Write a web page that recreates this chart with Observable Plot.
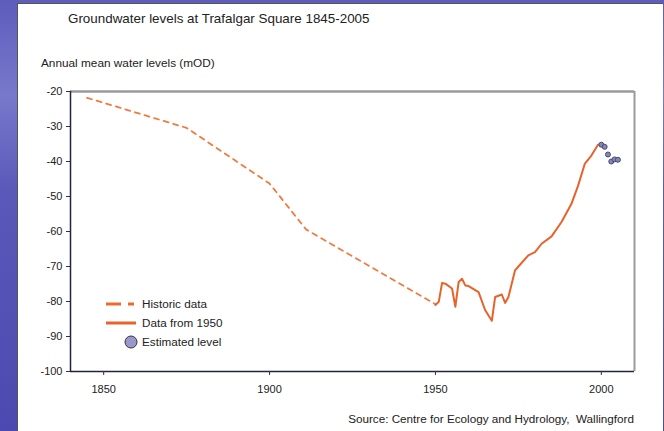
<!DOCTYPE html>
<html>
<head>
<meta charset="utf-8">
<script src="https://cdn.jsdelivr.net/npm/d3@7"></script>
<script src="https://cdn.jsdelivr.net/npm/@observablehq/plot@0.6"></script>
<style>
  html, body { margin: 0; padding: 0; }
  body { width: 664px; height: 431px; position: relative; overflow: hidden;
         background: linear-gradient(180deg, #5e5cbc 0%, #7878cc 22%, #5a58b8 45%, #4c4ab0 100%);
         font-family: "Liberation Sans", Arial, sans-serif; }
  #panel { position: absolute; left: 17px; top: 3px; width: 646px; height: 428px; background: #fff;
           border-left: 1px solid #555; border-top: 1px solid #555; box-sizing: border-box; }
  #chart { position: absolute; left: 0; top: 0; }
  .t { position: absolute; color: #222; white-space: nowrap; }
</style>
</head>
<body>
<div id="panel"></div>
<div id="chart"></div>
<div class="t" style="left:68px; top:11px; font-size:13.4px;">Groundwater levels at Trafalgar Square 1845-2005</div>
<div class="t" style="left:41px; top:56px; font-size:11.8px;">Annual mean water levels (mOD)</div>
<div class="t" style="right:30px; top:412px; font-size:11.7px;">Source: Centre for Ecology and Hydrology,&nbsp; Wallingford</div>
<div class="t" style="left:100px; top:296px;">
  <svg width="140" height="56" style="overflow:visible">
    <line x1="6" y1="8" x2="21" y2="8" stroke="#ec6a2e" stroke-width="3"/>
    <line x1="28" y1="8" x2="34" y2="8" stroke="#ec6a2e" stroke-width="3"/>
    <line x1="6" y1="27" x2="36" y2="27" stroke="#e8632b" stroke-width="3"/>
    <ellipse cx="31" cy="46" rx="6" ry="6" fill="#9898cc" stroke="#333" stroke-width="1"/>
    <text x="42" y="12" font-size="11.7" fill="#222" font-family="Liberation Sans, Arial, sans-serif">Historic data</text>
    <text x="42" y="31" font-size="11.7" fill="#222" font-family="Liberation Sans, Arial, sans-serif">Data from 1950</text>
    <text x="42" y="50" font-size="11.7" fill="#222" font-family="Liberation Sans, Arial, sans-serif">Estimated level</text>
  </svg>
</div>
<script>
const historicYears = [1845, 1875, 1900, 1911, 1950];
const historicLevels = [-21.8, -30.4, -46.3, -59.4, -80.8];

const measuredYears = [1950, 1951, 1952, 1953, 1955, 1956, 1957, 1958, 1959, 1960, 1963, 1965, 1967, 1968, 1970, 1971, 1972, 1974, 1975, 1978, 1980, 1982, 1985, 1988, 1991, 1993, 1995, 1997, 1999];
const measuredLevels = [-81, -80.1, -74.7, -74.9, -76.3, -81.5, -74.4, -73.5, -75.4, -75.6, -77.3, -82.5, -85.5, -78.7, -78, -80.4, -78.7, -71.1, -70, -66.8, -65.9, -63.5, -61.4, -57.3, -52.1, -46.9, -40.7, -38.3, -35.2];

const estimatedYears = [2000, 2001, 2002, 2003, 2004, 2005];
const estimatedLevels = [-35.2, -35.8, -38, -40, -39.4, -39.5];

const xTicks = [1850, 1900, 1950, 2000];
const yTicks = [-20, -30, -40, -50, -60, -70, -80, -90, -100];

const historic = historicYears.map((y, i) => ({year: y, level: historicLevels[i]}));
const measured = measuredYears.map((y, i) => ({year: y, level: measuredLevels[i]}));
const estimated = estimatedYears.map((y, i) => ({year: y, level: estimatedLevels[i]}));

const chart = Plot.plot({
  width: 664,
  height: 431,
  marginLeft: 70,
  marginRight: 30,
  marginTop: 91,
  marginBottom: 60,
  style: {background: "transparent", fontFamily: "Liberation Sans, Arial, sans-serif", fontSize: "11px", color: "#222"},
  x: {domain: [1840, 2010], ticks: xTicks, tickFormat: d => String(d), label: null, tickSize: 4, tickPadding: 10},
  y: {domain: [-100, -20], ticks: yTicks, tickFormat: d => String(d), label: null, tickSize: 4, tickPadding: 4},
  marks: [
    Plot.ruleY([-20], {stroke: "#9a9a9a", strokeWidth: 2.5}),
    Plot.ruleX([2010], {stroke: "#9a9a9a", strokeWidth: 2}),
    Plot.ruleX([1840], {stroke: "#222244", strokeWidth: 1.5}),
    Plot.ruleY([-100], {stroke: "#222244", strokeWidth: 1.5}),
    Plot.axisX({ticks: xTicks, tickFormat: d => String(d), tickSize: 4, tickPadding: 10, stroke: "#333", label: null}),
    Plot.axisY({ticks: yTicks, tickFormat: d => String(d), tickSize: 4, tickPadding: 4, stroke: "#333", label: null}),
    Plot.line(historic, {x: "year", y: "level", stroke: "#f07a40", strokeWidth: 1.8, strokeDasharray: "5,5"}),
    Plot.line(measured, {x: "year", y: "level", stroke: "#e8632b", strokeWidth: 2}),
    Plot.dot(estimated, {x: "year", y: "level", r: 2.5, fill: "#8686b8", stroke: "#4a4a70", strokeWidth: 1})
  ]
});
document.getElementById("chart").appendChild(chart);
</script>
</body>
</html>
